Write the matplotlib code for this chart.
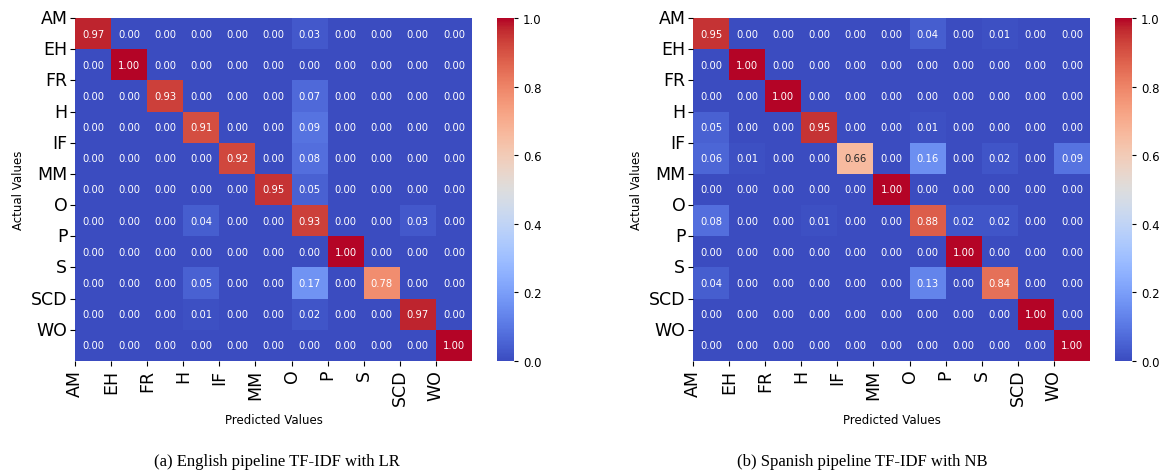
import numpy as np
import matplotlib
matplotlib.use("Agg")
import matplotlib.pyplot as plt
import seaborn as sns

labels = ["AM", "EH", "FR", "H", "IF", "MM", "O", "P", "S", "SCD", "WO"]

# English pipeline, TF-IDF + Logistic Regression (row-normalised)
english_lr = [
    [0.97, 0.00, 0.00, 0.00, 0.00, 0.00, 0.03, 0.00, 0.00, 0.00, 0.00],
    [0.00, 1.00, 0.00, 0.00, 0.00, 0.00, 0.00, 0.00, 0.00, 0.00, 0.00],
    [0.00, 0.00, 0.93, 0.00, 0.00, 0.00, 0.07, 0.00, 0.00, 0.00, 0.00],
    [0.00, 0.00, 0.00, 0.91, 0.00, 0.00, 0.09, 0.00, 0.00, 0.00, 0.00],
    [0.00, 0.00, 0.00, 0.00, 0.92, 0.00, 0.08, 0.00, 0.00, 0.00, 0.00],
    [0.00, 0.00, 0.00, 0.00, 0.00, 0.95, 0.05, 0.00, 0.00, 0.00, 0.00],
    [0.00, 0.00, 0.00, 0.04, 0.00, 0.00, 0.93, 0.00, 0.00, 0.03, 0.00],
    [0.00, 0.00, 0.00, 0.00, 0.00, 0.00, 0.00, 1.00, 0.00, 0.00, 0.00],
    [0.00, 0.00, 0.00, 0.05, 0.00, 0.00, 0.17, 0.00, 0.78, 0.00, 0.00],
    [0.00, 0.00, 0.00, 0.01, 0.00, 0.00, 0.02, 0.00, 0.00, 0.97, 0.00],
    [0.00, 0.00, 0.00, 0.00, 0.00, 0.00, 0.00, 0.00, 0.00, 0.00, 1.00],
]

# Spanish pipeline, TF-IDF + Naive Bayes (row-normalised)
spanish_nb = [
    [0.95, 0.00, 0.00, 0.00, 0.00, 0.00, 0.04, 0.00, 0.01, 0.00, 0.00],
    [0.00, 1.00, 0.00, 0.00, 0.00, 0.00, 0.00, 0.00, 0.00, 0.00, 0.00],
    [0.00, 0.00, 1.00, 0.00, 0.00, 0.00, 0.00, 0.00, 0.00, 0.00, 0.00],
    [0.05, 0.00, 0.00, 0.95, 0.00, 0.00, 0.01, 0.00, 0.00, 0.00, 0.00],
    [0.06, 0.01, 0.00, 0.00, 0.66, 0.00, 0.16, 0.00, 0.02, 0.00, 0.09],
    [0.00, 0.00, 0.00, 0.00, 0.00, 1.00, 0.00, 0.00, 0.00, 0.00, 0.00],
    [0.08, 0.00, 0.00, 0.01, 0.00, 0.00, 0.88, 0.02, 0.02, 0.00, 0.00],
    [0.00, 0.00, 0.00, 0.00, 0.00, 0.00, 0.00, 1.00, 0.00, 0.00, 0.00],
    [0.04, 0.00, 0.00, 0.00, 0.00, 0.00, 0.13, 0.00, 0.84, 0.00, 0.00],
    [0.00, 0.00, 0.00, 0.00, 0.00, 0.00, 0.00, 0.00, 0.00, 1.00, 0.00],
    [0.00, 0.00, 0.00, 0.00, 0.00, 0.00, 0.00, 0.00, 0.00, 0.00, 1.00],
]

captions = ["(a) English pipeline TF-IDF with LR", "(b) Spanish pipeline TF-IDF with NB"]

W, H = 1161, 477
fig = plt.figure(figsize=(W / 100, H / 100), dpi=100)


def box(x0, y0, x1, y1):
    return [x0 / W, 1 - y1 / H, (x1 - x0) / W, (y1 - y0) / H]


panels = [
    (english_lr, box(75, 19, 472, 362), box(497, 19, 514, 362), 277),
    (spanish_nb, box(693, 19, 1090, 362), box(1115, 19, 1132, 362), 862),
]

for (mat, ax_box, cb_box, cap_x), cap in zip(panels, captions):
    ax = fig.add_axes(ax_box)
    cax = fig.add_axes(cb_box)
    sns.heatmap(np.array(mat), ax=ax, cbar_ax=cax, cmap="coolwarm",
                vmin=0, vmax=1, annot=True, fmt=".2f",
                annot_kws={"fontsize": 7.2})
    ticks = np.arange(len(labels))
    ax.set_xticks(ticks)
    ax.set_yticks(ticks)
    ax.set_xticklabels(labels, rotation=90, fontsize=12.5)
    ax.set_yticklabels(labels, rotation=0, fontsize=12.5)
    ax.tick_params(length=3.5, width=0.8, pad=2)
    ax.set_xlabel("Predicted Values", fontsize=8.5, labelpad=6)
    ax.set_ylabel("Actual Values", fontsize=8.5, labelpad=4)
    cax.tick_params(labelsize=8.5, length=3, width=0.8)
    cax.set_yticks([0.0, 0.2, 0.4, 0.6, 0.8, 1.0])
    fig.text(cap_x / W, 1 - 462 / H, cap, ha="center", va="center",
             fontsize=12, family="Liberation Serif")

fig.savefig("out.png", dpi=100)
